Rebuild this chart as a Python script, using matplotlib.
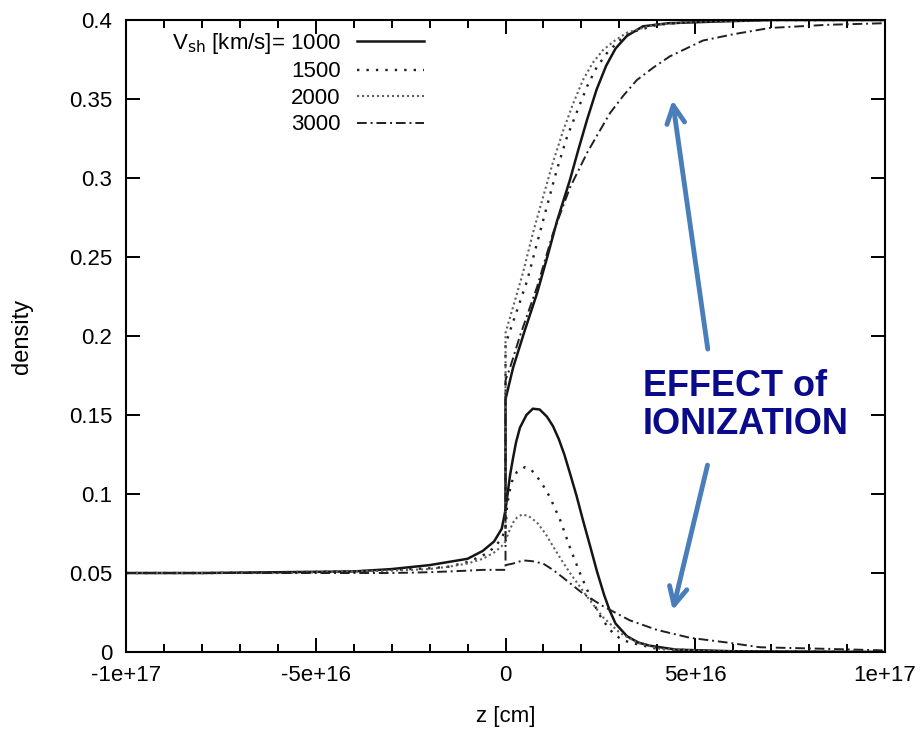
import numpy as np
from matplotlib import pyplot as plt
from matplotlib.ticker import MultipleLocator

plt.rcParams['font.family'] = ['Liberation Sans', 'DejaVu Sans']

# z in units of 1e16 cm
z_pre = [-10, -8, -6, -4, -3, -2, -1.5, -1, -0.6, -0.3, -0.1, 0]
pre = {
    1000: [0.050, 0.050, 0.0505, 0.051, 0.0525, 0.055, 0.057, 0.059, 0.064, 0.070, 0.078, 0.090],
    1500: [0.050, 0.050, 0.0505, 0.051, 0.052, 0.053, 0.054, 0.057, 0.061, 0.066, 0.072, 0.078],
    2000: [0.050, 0.050, 0.050, 0.051, 0.0515, 0.0525, 0.054, 0.056, 0.059, 0.063, 0.067, 0.070],
    3000: [0.050, 0.050, 0.050, 0.050, 0.050, 0.0505, 0.051, 0.0515, 0.052, 0.052, 0.052, 0.052],
}

z_tot = {
    1000: [0, 0.2, 0.5, 0.83, 1.1, 1.36, 1.7, 1.92, 2.15, 2.4, 2.65, 2.9, 3.2, 3.62, 4.3, 5.5, 7, 10],
    1500: [0, 0.3, 0.57, 0.8, 1.09, 1.35, 1.62, 1.9, 2.15, 2.4, 2.67, 2.95, 3.28, 4.0, 5, 7, 10],
    2000: [0, 0.46, 0.72, 0.99, 1.25, 1.52, 1.78, 2.04, 2.3, 2.57, 2.88, 3.2, 3.9, 5, 7, 10],
    3000: [0, 0.12, 0.38, 0.83, 1.25, 1.7, 2.15, 2.75, 3.1, 3.46, 3.9, 4.33, 5.2, 6.0, 6.97, 8.5, 10],
}
d_tot = {
    1000: [0.16, 0.18, 0.203, 0.227, 0.25, 0.273, 0.299, 0.318, 0.337, 0.356, 0.371, 0.382, 0.390, 0.396,
           0.398, 0.399, 0.4, 0.4],
    1500: [0.195, 0.216, 0.235, 0.256, 0.282, 0.305, 0.326, 0.343, 0.358, 0.370, 0.379, 0.386, 0.392,
           0.397, 0.399, 0.4, 0.4],
    2000: [0.202, 0.24, 0.265, 0.288, 0.31, 0.33, 0.347, 0.362, 0.373, 0.381, 0.387, 0.392, 0.397, 0.399, 0.4, 0.4],
    3000: [0.172, 0.18, 0.2, 0.231, 0.265, 0.294, 0.316, 0.341, 0.352, 0.362, 0.370, 0.377, 0.387, 0.391,
           0.395, 0.397, 0.398],
}

z_neu = {
    1000: [0, 0.07, 0.12, 0.2, 0.28, 0.38, 0.55, 0.72, 0.9, 1.09, 1.25, 1.4, 1.55, 1.7, 1.87, 2.04, 2.23,
           2.41, 2.6, 2.75, 2.9, 3.2, 3.5, 3.8, 4.5, 6, 10],
    1500: [0, 0.04, 0.1, 0.17, 0.3, 0.51, 0.67, 0.83, 1.0, 1.17, 1.3, 1.44, 1.7, 1.96, 2.23, 2.49, 2.66,
           2.83, 3.05, 3.28, 4.0, 5.5, 10],
    2000: [0, 0.07, 0.2, 0.3, 0.43, 0.6, 0.83, 1.05, 1.25, 1.48, 1.7, 2.15, 2.57, 3.02, 3.46, 4.07, 5.5, 10],
    3000: [0, 0.2, 0.46, 0.7, 0.99, 1.25, 1.52, 2.04, 2.57, 3.28, 3.99, 4.86, 5.84, 6.71, 8.47, 10],
}
d_neu = {
    1000: [0.09, 0.103, 0.112, 0.123, 0.133, 0.142, 0.150, 0.154, 0.1535, 0.149, 0.143, 0.135, 0.125,
           0.113, 0.099, 0.0835, 0.067, 0.051, 0.036, 0.026, 0.018, 0.010, 0.006, 0.004, 0.0015, 0.0005, 0.0],
    1500: [0.078, 0.092, 0.101, 0.108, 0.114, 0.117, 0.1155, 0.111, 0.105, 0.098, 0.091, 0.0835, 0.066,
           0.05, 0.035, 0.023, 0.017, 0.012, 0.008, 0.006, 0.002, 0.0005, 0.0],
    2000: [0.070, 0.075, 0.082, 0.085, 0.087, 0.0862, 0.082, 0.075, 0.067, 0.058, 0.05, 0.035, 0.022,
           0.012, 0.006, 0.002, 0.0005, 0.0],
    3000: [0.055, 0.056, 0.058, 0.0575, 0.056, 0.052, 0.047, 0.037, 0.029, 0.020, 0.014, 0.009, 0.006,
           0.003, 0.002, 0.001],
}

velocities = [1000, 1500, 2000, 3000]
labels = ['V$_{\\rm sh}$ [km/s]= 1000', '1500', '2000', '3000']

x_ticks = [-1e17, -5e16, 0, 5e16, 1e17]
x_ticklabels = ['-1e+17', '-5e+16', '0', '5e+16', '1e+17']
y_ticks = [0, 0.05, 0.1, 0.15, 0.2, 0.25, 0.3, 0.35, 0.4]
y_ticklabels = ['0', '0.05', '0.1', '0.15', '0.2', '0.25', '0.3', '0.35', '0.4']

styles = {
    1000: dict(color='#151515', lw=1.8, linestyle='-'),
    1500: dict(color='#202020', lw=1.7, dashes=(1, 3)),
    2000: dict(color='#606060', lw=1.5, dashes=(1, 1.4)),
    3000: dict(color='#202020', lw=1.4, dashes=(5, 2, 1, 2)),
}

fig = plt.figure(figsize=[9.24, 7.34], dpi=100)
ax = fig.add_axes([0.1364, 0.1117, 0.8214, 0.861])

for v, lab in zip(velocities, labels):
    z = np.array(z_pre + z_tot[v]) * 1e16
    d = np.array(pre[v] + d_tot[v])
    ax.plot(z, d, label=lab, **styles[v])
    ax.plot(np.array(z_neu[v]) * 1e16, d_neu[v], **styles[v])

ax.set_xlim(-1e17, 1e17)
ax.set_ylim(0, 0.4)
ax.set_xticks(x_ticks)
ax.set_xticklabels(x_ticklabels)
ax.set_yticks(y_ticks)
ax.set_yticklabels(y_ticklabels)
ax.xaxis.set_minor_locator(MultipleLocator(1e16))
ax.tick_params(which='both', direction='in', top=True, right=True, labelsize=16, width=1.4)
ax.tick_params(which='major', length=10)
ax.tick_params(which='minor', length=6)
ax.tick_params(axis='y', pad=10)
ax.tick_params(axis='x', pad=9)
for s in ax.spines.values():
    s.set_linewidth(1.5)

ax.set_xlabel('z [cm]', fontsize=16, labelpad=15)
ax.set_ylabel('density', fontsize=17, labelpad=26)

leg = ax.legend(loc='upper left', bbox_to_anchor=(0.06, 0.983), frameon=False, markerfirst=False,
                fontsize=16, handlelength=3.0, handletextpad=0.75, labelspacing=0.25,
                borderpad=0, borderaxespad=0)

# annotation
ax.text(3.62e16, 0.156, 'EFFECT of\nIONIZATION', fontsize=26, fontweight='bold', color='#0a0a8c',
        ha='left', va='center', linespacing=1.1)
arrow = dict(arrowstyle='->', color='#4a7ebb', lw=3.5, mutation_scale=32)
ax.annotate('', xy=(4.39e16, 0.351), xytext=(5.34e16, 0.19), arrowprops=arrow)
ax.annotate('', xy=(4.39e16, 0.0247), xytext=(5.34e16, 0.12), arrowprops=arrow)

plt.savefig('out.png', dpi=100)
